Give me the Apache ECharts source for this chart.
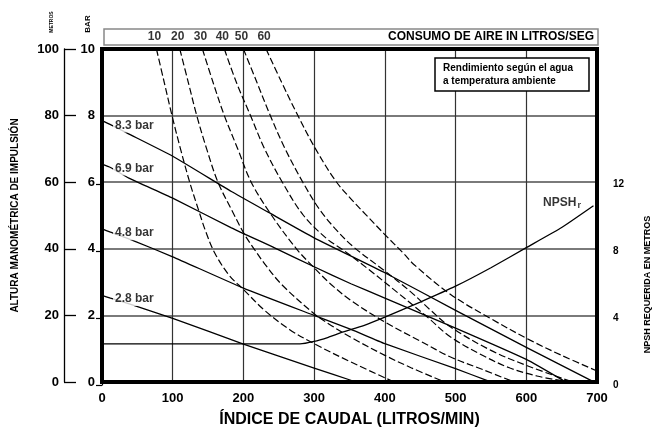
<!DOCTYPE html>
<html>
<head>
<meta charset="utf-8">
<script src="https://cdn.jsdelivr.net/npm/echarts@6/dist/echarts.min.js"></script>
<style>
html, body { margin: 0; padding: 0; background: #fff; }
#chart { width: 666px; height: 433px; }
</style>
</head>
<body>
<div id="chart"></div>
<script>
var FONT = '"Liberation Sans", Arial, sans-serif';

// ejes
var xTicks = [0, 100, 200, 300, 400, 500, 600, 700];
var barTicks = [0, 2, 4, 6, 8, 10];
var metrosTicks = [0, 20, 40, 60, 80, 100];
var npshTicks = [0, 4, 8, 12];

// curvas de presión [l/min, metros]
var pressureNames = ['2.8 bar', '4.8 bar', '6.9 bar', '8.3 bar'];
var p28 = [[0, 26], [12, 25.2], [45, 23], [100, 19.1], [200, 11.4], [300, 4.2], [355, 0.3]];
var p48 = [[0, 46], [12, 45], [45, 42.4], [100, 37.6], [200, 28.2], [300, 20], [352, 15.8], [400, 11.5], [500, 4], [545, 0.4]];
var p69 = [[0, 65.4], [12, 64.4], [38, 61.2], [100, 55.2], [183, 46.3], [244, 40.3], [300, 34.6], [352, 29.5], [400, 25.2], [500, 16.2], [600, 6.8], [652, 0.5]];
var p83 = [[0, 78.5], [12, 77.3], [35, 74.8], [100, 67.8], [183, 57.2], [235, 51], [300, 43.3], [400, 32.8], [500, 21.5], [600, 10.4], [692, 0.4]];

// consumo de aire (l/seg)
var airNames = ['10', '20', '30', '40', '50', '60'];
var a10 = [[77, 100], [88, 90], [99, 80], [111, 70], [124, 60], [136, 52], [147, 45], [160, 38.5], [180, 32], [200, 27.8], [230, 21.5], [265, 15.8], [300, 11.5], [352, 6], [410, 0.3]];
var a20 = [[110, 100], [122, 90], [134, 80], [148, 70], [164, 60], [185, 51], [201, 44.5], [214, 40.3], [230, 35.5], [254, 29.3], [300, 20.5], [324, 17], [352, 13.4], [400, 8], [437, 4.3], [480, 0.4]];
var a30 = [[142, 100], [157, 90], [173, 80], [192, 70], [211, 60], [240, 50], [275, 40], [300, 34.3], [324, 29.3], [352, 24.5], [400, 18], [450, 12.3], [493, 7.5], [540, 3.6], [578, 0.4]];
var a40 = [[173, 100], [190, 90], [210, 80], [230, 70], [255, 60], [285, 50], [318, 43], [340, 39.8], [376, 34], [420, 26.5], [460, 19.5], [493, 13.5], [540, 7.8], [577, 4.2], [615, 1.8], [650, 0.4]];
var a50 = [[200, 100], [219, 90], [238, 80], [259, 70], [284, 60], [307, 52], [330, 46], [356, 40.5], [399, 33.5], [437, 27], [465, 21.5], [493, 16.5], [550, 9.5], [600, 5], [660, 0.4]];
var a60 = [[232, 100], [254, 90], [277, 80], [302, 70], [330, 60.5], [352, 55], [372, 50.5], [399, 44.5], [427, 38.5], [441, 35.3], [493, 26.3], [550, 19], [606, 12.5], [650, 8], [700, 3.3]];

// NPSH requerida (metros)
var npsh = [[0, 2.45], [280, 2.45], [300, 2.6], [320, 2.85], [340, 3.15], [370, 3.55], [400, 4.05], [450, 4.95], [500, 5.9], [550, 7.0], [600, 8.2], [650, 9.4], [695, 10.7]];

var pressureCurves = [p28, p48, p69, p83];
var airCurves = [a10, a20, a30, a40, a50, a60];

var series = [];
pressureCurves.forEach(function (d, i) {
    series.push({
        name: pressureNames[i], type: 'line', xAxisIndex: 0, yAxisIndex: 1,
        data: d, showSymbol: false, smooth: 0.15, silent: true,
        lineStyle: { color: '#000', width: 1.3 }
    });
});
airCurves.forEach(function (d, i) {
    series.push({
        name: 'aire ' + airNames[i], type: 'line', xAxisIndex: 0, yAxisIndex: 1,
        data: d, showSymbol: false, smooth: 0.35, silent: true,
        lineStyle: { color: '#000', width: 1.2, type: [7, 3] }
    });
});
series.push({
    name: 'NPSHr', type: 'line', xAxisIndex: 1, yAxisIndex: 2,
    data: npsh, showSymbol: false, smooth: 0.15, silent: true,
    lineStyle: { color: '#000', width: 1.3 }
});
// etiquetas de presión (sobre la curva, fondo blanco)
series.push({
    type: 'scatter', xAxisIndex: 0, yAxisIndex: 1, symbolSize: 1, silent: true, z: 5,
    itemStyle: { color: 'rgba(0,0,0,0)' },
    data: pressureCurves.map(function (d, i) { return { value: d[1], name: pressureNames[i] }; }),
    label: {
        show: true, position: 'right', distance: 2, offset: [0, 1], formatter: '{b}',
        color: '#000', fontFamily: FONT, fontWeight: 'bold', fontSize: 12,
        backgroundColor: '#fff', padding: [1, 2, 1, 2]
    }
});
// etiquetas de consumo de aire (arriba de cada curva)
series.push({
    type: 'scatter', xAxisIndex: 0, yAxisIndex: 1, symbolSize: 1, silent: true, z: 12,
    itemStyle: { color: 'rgba(0,0,0,0)' },
    data: airCurves.map(function (d, i) { return { value: d[0], name: airNames[i] }; }),
    label: {
        show: true, position: 'top', distance: 6, offset: [-2, 0], formatter: '{b}',
        color: '#000', fontFamily: FONT, fontWeight: 'bold', fontSize: 12
    }
});
// etiqueta NPSHr
series.push({
    type: 'scatter', xAxisIndex: 1, yAxisIndex: 2, symbolSize: 1, silent: true, z: 5,
    itemStyle: { color: 'rgba(0,0,0,0)' },
    data: [{ value: npsh[npsh.length - 1], name: 'NPSH' }],
    label: {
        show: true, position: 'left', distance: 12, offset: [0, -3],
        formatter: '{n|NPSH}{s|r}',
        rich: {
            n: { fontFamily: FONT, fontWeight: 'bold', fontSize: 12, color: '#000' },
            s: { fontFamily: FONT, fontWeight: 'bold', fontSize: 9, color: '#000', padding: [6, 0, 0, 1] }
        }
    }
});

var boldText = function (size) {
    return { fontFamily: FONT, fontWeight: 'bold', fontSize: size, color: '#000' };
};

var option = {
    animation: false,
    backgroundColor: '#fff',
    grid: [
        { left: 102, right: 69, top: 49, bottom: 48, show: true, borderColor: '#000', borderWidth: 4, z: 3 },
        { left: 102, right: 69, top: 184, bottom: 48 }
    ],
    xAxis: [{
        type: 'value', gridIndex: 0,
        min: xTicks[0], max: xTicks[xTicks.length - 1], interval: xTicks[1] - xTicks[0],
        name: 'ÍNDICE DE CAUDAL (LITROS/MIN)', nameLocation: 'middle', nameGap: 30,
        nameTextStyle: boldText(16),
        axisLine: { lineStyle: { color: '#000', width: 4 } },
        axisTick: { show: false },
        axisLabel: Object.assign({ margin: 10 }, boldText(13)),
        splitLine: { lineStyle: { color: '#333', width: 1.2 } }
    }, {
        type: 'value', gridIndex: 1, show: false,
        min: xTicks[0], max: xTicks[xTicks.length - 1]
    }],
    yAxis: [{
        type: 'value', gridIndex: 0, position: 'left',
        min: barTicks[0], max: barTicks[barTicks.length - 1], interval: barTicks[1] - barTicks[0],
        axisLine: { lineStyle: { color: '#000', width: 4 } },
        axisTick: { show: false },
        axisLabel: Object.assign({ margin: 7 }, boldText(13)),
        splitLine: { lineStyle: { color: '#7a7a7a', width: 2 } }
    }, {
        type: 'value', gridIndex: 0, position: 'left', offset: 38,
        min: metrosTicks[0], max: metrosTicks[metrosTicks.length - 1], interval: metrosTicks[1] - metrosTicks[0],
        name: 'ALTURA MANOMÉTRICA DE IMPULSIÓN', nameLocation: 'middle', nameGap: 44, nameRotate: 90,
        nameTextStyle: boldText(10),
        axisLine: { show: true, lineStyle: { color: '#000', width: 1.3 } },
        axisTick: { show: true, inside: true, length: 12, lineStyle: { color: '#000', width: 1.3 } },
        axisLabel: Object.assign({ margin: 5 }, boldText(13)),
        splitLine: { show: false }
    }, {
        type: 'value', gridIndex: 1, position: 'right', offset: 10,
        min: npshTicks[0], max: npshTicks[npshTicks.length - 1], interval: npshTicks[1] - npshTicks[0],
        name: 'NPSH REQUERIDA EN METROS', nameLocation: 'middle', nameGap: 36, nameRotate: 90,
        nameTextStyle: boldText(9),
        axisLine: { show: true, lineStyle: { color: '#000', width: 1.2 } },
        axisTick: { show: true, inside: true, length: 6, lineStyle: { color: '#000', width: 1.2 } },
        axisLabel: Object.assign({ margin: 6 }, boldText(10)),
        splitLine: { show: false }
    }],
    graphic: [
        { type: 'rect', z: 10, shape: { x: 104, y: 29, width: 494, height: 16 },
          style: { fill: '#fff', stroke: '#888', lineWidth: 1.5 } },
        { type: 'text', z: 11, x: 594, y: 37,
          style: { text: 'CONSUMO DE AIRE IN LITROS/SEG', align: 'right', verticalAlign: 'middle',
                   font: 'bold 12px ' + FONT, fill: '#000' } },
        { type: 'text', z: 11, x: 52, y: 22, rotation: Math.PI / 2,
          style: { text: 'METROS', align: 'center', verticalAlign: 'middle', font: 'bold 5px ' + FONT, fill: '#000' } },
        { type: 'text', z: 11, x: 88, y: 24, rotation: Math.PI / 2,
          style: { text: 'BAR', align: 'center', verticalAlign: 'middle', font: 'bold 8px ' + FONT, fill: '#000' } },
        { type: 'rect', z: 10, shape: { x: 435, y: 58, width: 154, height: 33 },
          style: { fill: '#fff', stroke: '#000', lineWidth: 1.5 } },
        { type: 'text', z: 11, x: 443, y: 62,
          style: { text: 'Rendimiento según el agua\na temperatura ambiente', font: 'bold 10px ' + FONT,
                   lineHeight: 13, fill: '#000' } }
    ],
    series: series
};

var myChart = echarts.init(document.getElementById('chart'));
myChart.setOption(option);
</script>
</body>
</html>
